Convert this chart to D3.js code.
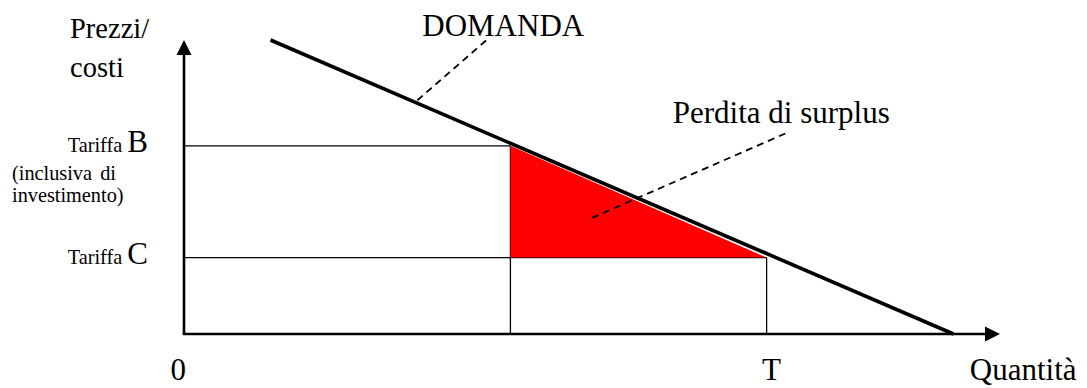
<!DOCTYPE html>
<html>
<head>
<meta charset="utf-8">
<script src="https://cdn.jsdelivr.net/npm/d3@7"></script>
<style>
	html, body { margin: 0; padding: 0; background: #fff; }
	svg { display: block; }
</style>
</head>
<body>
<svg id="chart"></svg>
<script>
// quantities on the x axis (arbitrary units, 0..100 up to the arrow tip)
const quantity_marks = [
	{ name: "Q1", value: 40 },
	{ name: "T", value: 71.4 }
]

// tariffs on the y axis (arbitrary units, 0..100 up to the arrow tip)
const tariffs = [
	{ name: "B", value: 64, note: ["(inclusiva", "di", "investimento)"] },
	{ name: "C", value: 26 }
]

// demand curve end points [quantity, price]
const demand = [[10.6, 100], [94.3, 0]]

// surplus loss triangle [quantity, price]
const surplus_loss = [[40, 64], [71.4, 26], [40, 26]]

// dashed leader lines [from, to] in data units
const leaders = [
	{ label: "DOMANDA", from: [28.6, 79.5], to: [37.3, 100.5], text_at: [29.2, 101.5] },
	{ label: "Perdita di surplus", from: [50, 39.5], to: [74.1, 68.7], text_at: [59.9, 71.6] }
]

const x_labels = [
	{ text: "0", value: -0.7, anchor: "middle" },
	{ text: "T", value: 72.0, anchor: "middle" },
	{ text: "Quantità", value: 96.3, anchor: "start" }
]

const config = {
	width: 1087,
	height: 388,
	font_family: "'Liberation Serif', 'Times New Roman', serif",
	big: "31px",
	title: "28.5px",
	small: "20.3px"
}

const svg = d3.select("svg#chart")
	.attr("width", config.width)
	.attr("height", config.height)

const x = d3.scaleLinear().domain([0, 100]).range([184, 1000])
const y = d3.scaleLinear().domain([0, 100]).range([334, 40])

const chart = svg.append("g")

// thin guide lines for the tariffs and quantities
chart.append("line")
	.attr("x1", x(0)).attr("y1", y(tariffs[0].value))
	.attr("x2", x(quantity_marks[0].value)).attr("y2", y(tariffs[0].value))
	.style("stroke", "#000").style("stroke-width", 1.3)
chart.append("line")
	.attr("x1", x(0)).attr("y1", y(tariffs[1].value))
	.attr("x2", x(quantity_marks[1].value)).attr("y2", y(tariffs[1].value))
	.style("stroke", "#000").style("stroke-width", 1.3)
chart.append("line")
	.attr("x1", x(quantity_marks[0].value)).attr("y1", y(tariffs[0].value))
	.attr("x2", x(quantity_marks[0].value)).attr("y2", y(0))
	.style("stroke", "#000").style("stroke-width", 1.3)
chart.append("line")
	.attr("x1", x(quantity_marks[1].value)).attr("y1", y(tariffs[1].value))
	.attr("x2", x(quantity_marks[1].value)).attr("y2", y(0))
	.style("stroke", "#000").style("stroke-width", 1.3)

// red triangle (perdita di surplus)
chart.append("path")
	.attr("d", d3.line().x(d => x(d[0])).y(d => y(d[1]))(surplus_loss) + "Z")
	.style("fill", "#ff0000")

// demand line
chart.append("line")
	.attr("x1", x(demand[0][0])).attr("y1", y(demand[0][1]))
	.attr("x2", x(demand[1][0])).attr("y2", y(demand[1][1]))
	.style("stroke", "#000")
	.style("stroke-width", 3.6)

// axes with arrow heads
chart.append("line")
	.attr("x1", x(0)).attr("y1", y(0))
	.attr("x2", x(0)).attr("y2", y(100) + 12)
	.style("stroke", "#000").style("stroke-width", 2.6)
chart.append("line")
	.attr("x1", x(0) - 1.3).attr("y1", y(0))
	.attr("x2", x(100) - 12).attr("y2", y(0))
	.style("stroke", "#000").style("stroke-width", 2.6)
chart.append("path")
	.attr("d", `M ${x(0)},${y(100)} L ${x(0) + 7.5},${y(100) + 15} L ${x(0) - 7.5},${y(100) + 15} Z`)
	.style("fill", "#000")
chart.append("path")
	.attr("d", `M ${x(100)},${y(0)} L ${x(100) - 15},${y(0) - 7.5} L ${x(100) - 15},${y(0) + 7.5} Z`)
	.style("fill", "#000")

// dashed leader lines
leaders.forEach(d => {
	chart.append("line")
		.attr("x1", x(d.from[0])).attr("y1", y(d.from[1]))
		.attr("x2", x(d.to[0])).attr("y2", y(d.to[1]))
		.style("stroke", "#000")
		.style("stroke-width", 1.8)
		.style("stroke-dasharray", "7,5")
	chart.append("text")
		.attr("x", x(d.text_at[0])).attr("y", y(d.text_at[1]))
		.text(d.label)
		.style("font-family", config.font_family)
		.style("font-size", config.big)
})

// y axis title
chart.append("text")
	.attr("x", 70).attr("y", 38)
	.text("Prezzi/")
	.style("font-family", config.font_family)
	.style("font-size", config.title)
chart.append("text")
	.attr("x", 70).attr("y", 77)
	.text("costi")
	.style("font-family", config.font_family)
	.style("font-size", config.title)

// tariff labels: small "Tariffa" + big letter
tariffs.forEach(d => {
	const label = chart.append("text")
		.attr("x", 148).attr("y", y(d.value) + 6)
		.attr("text-anchor", "end")
		.style("font-family", config.font_family)
	label.append("tspan").text("Tariffa ").style("font-size", config.small)
	label.append("tspan").text(d.name).style("font-size", config.big)

	if (d.note) {
		chart.append("text")
			.attr("x", 12).attr("y", y(d.value) + 34)
			.text(d.note[0])
			.style("font-family", config.font_family)
			.style("font-size", config.small)
		chart.append("text")
			.attr("x", 116).attr("y", y(d.value) + 34)
			.attr("text-anchor", "end")
			.text(d.note[1])
			.style("font-family", config.font_family)
			.style("font-size", config.small)
		chart.append("text")
			.attr("x", 12).attr("y", y(d.value) + 56)
			.text(d.note[2])
			.style("font-family", config.font_family)
			.style("font-size", config.small)
	}
})

// x axis labels (kept just inside the bottom edge)
chart.selectAll(".x-label")
	.data(x_labels)
	.enter()
	.append("text")
	.attr("class", "x-label")
	.attr("x", d => x(d.value))
	.attr("y", 380)
	.attr("text-anchor", d => d.anchor)
	.text(d => d.text)
	.style("font-family", config.font_family)
	.style("font-size", config.big)
</script>
</body>
</html>
